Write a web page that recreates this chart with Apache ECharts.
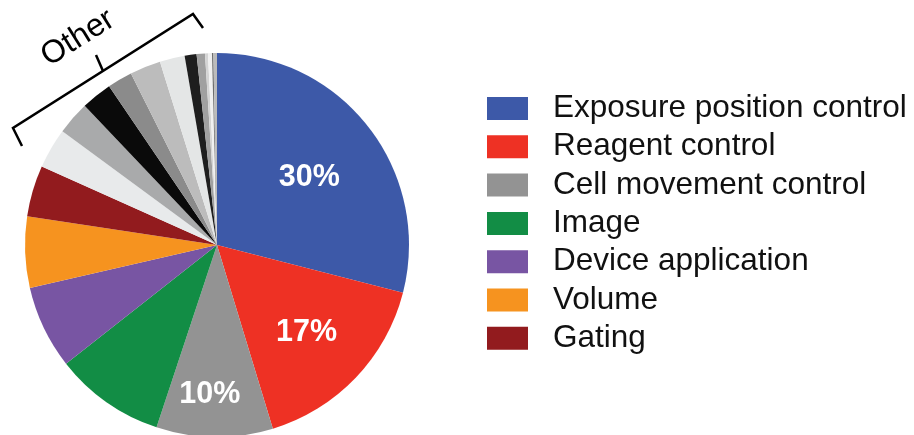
<!DOCTYPE html>
<html>
<head>
<meta charset="utf-8">
<script src="https://cdn.jsdelivr.net/npm/echarts@6/dist/echarts.min.js"></script>
<style>
html,body{margin:0;padding:0;background:#fff;}
#chart{width:914px;height:435px;}
</style>
</head>
<body>
<div id="chart"></div>
<script>
// Named categories (legend)
const categories = ['Exposure position control','Reagent control','Cell movement control','Image','Device application','Volume','Gating'];
const categoryValues = [29.0, 16.3, 9.8, 9.3, 7.0, 6.0, 4.3];
const categoryColors = ['#3d59a8','#ee3124','#939393','#128d45','#7855a3','#f6931f','#921b1e'];
// "Other" small slices (in clockwise order after Gating)
const otherValues = [3.4, 2.8, 2.6, 2.1, 2.6, 2.1, 1.0, 0.7, 0.25, 0.33, 0.12, 0.3];
const otherColors = ['#e8eaeb','#a9aaab','#0a0a0a','#8b8b8b','#bcbcbc','#e4e6e6','#1e1e1e','#a0a0a0','#d4d4d4','#f0f0f0','#6e6e6e','#bbbbbb'];
const labelTexts = ['30%','17%','10%'];
const labelShift = [[14,-7],[18,19],[-6,51]];

const FONT = 'Liberation Sans, Arial, Helvetica, sans-serif';

const data = [];
categories.forEach((c,i)=>{
  data.push({name:c, value:categoryValues[i], itemStyle:{color:categoryColors[i]},
    label:{show: i < labelTexts.length}});
});
otherValues.forEach((v,i)=>{
  data.push({name:'Other '+(i+1), value:v, itemStyle:{color:otherColors[i]}, label:{show:false}});
});

const chart = echarts.init(document.getElementById('chart'), null, {renderer:'canvas'});
chart.setOption({
  animation:false,
  backgroundColor:'#ffffff',
  legend:{
    data:categories,
    orient:'vertical',
    left:487, top:92.5,
    padding:0,
    icon:'rect',
    itemWidth:41, itemHeight:23,
    itemGap:6.3,
    selectedMode:false,
    textStyle:{fontFamily:FONT, fontSize:31.5, color:'#111', lineHeight:32, padding:[0,0,0,20]}
  },
  series:[{
    type:'pie',
    center:[217,245],
    radius:[0,192],
    startAngle:90,
    clockwise:true,
    avoidLabelOverlap:false,
    silent:true,
    itemStyle:{borderWidth:0},
    label:{
      position:'inside',
      formatter:(p)=> labelTexts[p.dataIndex] || '',
      color:'#fff', fontFamily:FONT, fontWeight:'bold', fontSize:30.5
    },
    labelLine:{show:false},
    labelLayout:(p)=>{
      const s = labelShift[p.dataIndex];
      return s ? {dx:s[0], dy:s[1]} : {};
    },
    data:data
  }],
  graphic:[
    {type:'polyline', shape:{points:[[22,146],[13,128],[193,14],[203,28]]}, style:{stroke:'#000', lineWidth:2.5, fill:null}},
    {type:'polyline', shape:{points:[[103,71],[96,55]]}, style:{stroke:'#000', lineWidth:2.5, fill:null}},
    {type:'text', x:78, y:38, rotation:32*Math.PI/180,
      style:{text:'Other', fontFamily:FONT, fontSize:32, fill:'#000', align:'center', verticalAlign:'middle'}}
  ]
});
</script>
</body>
</html>
